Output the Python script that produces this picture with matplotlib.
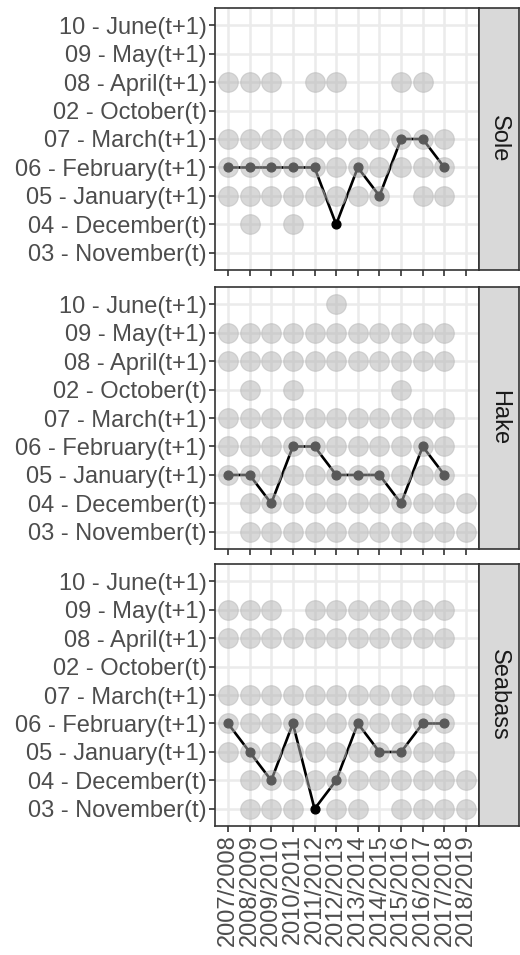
import matplotlib.pyplot as plt

plt.rcParams['font.family'] = ['Liberation Sans', 'DejaVu Sans']

# season start years (2007 -> "2007/2008")
seasons = list(range(2007, 2019))
season_labels = ['%d/%d' % (s, s + 1) for s in seasons]

# month categories, bottom to top
months = ['03 - November(t)', '04 - December(t)', '05 - January(t+1)',
          '06 - February(t+1)', '07 - March(t+1)', '02 - October(t)',
          '08 - April(t+1)', '09 - May(t+1)', '10 - June(t+1)']

species = ['Sole', 'Hake', 'Seabass']

# seasons with data, per month
sole_data = {
    '08 - April(t+1)': [2007, 2008, 2009, 2011, 2012, 2015, 2016],
    '07 - March(t+1)': list(range(2007, 2018)),
    '06 - February(t+1)': list(range(2007, 2018)),
    '05 - January(t+1)': [2007, 2008, 2009, 2010, 2011, 2012, 2013, 2014, 2016, 2017],
    '04 - December(t)': [2008, 2010],
}
hake_data = {
    '10 - June(t+1)': [2012],
    '09 - May(t+1)': list(range(2007, 2018)),
    '08 - April(t+1)': list(range(2007, 2018)),
    '02 - October(t)': [2008, 2010, 2015],
    '07 - March(t+1)': list(range(2007, 2018)),
    '06 - February(t+1)': list(range(2007, 2018)),
    '05 - January(t+1)': list(range(2007, 2018)),
    '04 - December(t)': list(range(2008, 2019)),
    '03 - November(t)': list(range(2008, 2019)),
}
seabass_data = {
    '09 - May(t+1)': [2007, 2008, 2009, 2011, 2012, 2013, 2014, 2015, 2016, 2017],
    '08 - April(t+1)': list(range(2007, 2018)),
    '07 - March(t+1)': list(range(2007, 2018)),
    '06 - February(t+1)': list(range(2007, 2018)),
    '05 - January(t+1)': list(range(2007, 2018)),
    '04 - December(t)': list(range(2008, 2019)),
    '03 - November(t)': [2008, 2009, 2010, 2012, 2013, 2015, 2016, 2017, 2018],
}

# selected month per season (2007/2008 .. 2017/2018)
sole_sel = ['06 - February(t+1)'] * 5 + ['04 - December(t)', '06 - February(t+1)',
            '05 - January(t+1)', '07 - March(t+1)', '07 - March(t+1)', '06 - February(t+1)']
hake_sel = ['05 - January(t+1)', '05 - January(t+1)', '04 - December(t)',
            '06 - February(t+1)', '06 - February(t+1)', '05 - January(t+1)',
            '05 - January(t+1)', '05 - January(t+1)', '04 - December(t)',
            '06 - February(t+1)', '05 - January(t+1)']
seabass_sel = ['06 - February(t+1)', '05 - January(t+1)', '04 - December(t)',
               '06 - February(t+1)', '03 - November(t)', '04 - December(t)',
               '06 - February(t+1)', '05 - January(t+1)', '05 - January(t+1)',
               '06 - February(t+1)', '06 - February(t+1)']

all_data = [sole_data, hake_data, seabass_data]
all_sel = [sole_sel, hake_sel, seabass_sel]

W, H = 520, 955
fig = plt.figure(figsize=(W / 100, H / 100), dpi=100)

tops = [8, 287, 564]
ph = 262
for i, name in enumerate(species):
    top = tops[i]
    ax = fig.add_axes([215 / W, 1 - (top + ph) / H, 264 / W, ph / H])
    st = fig.add_axes([479 / W, 1 - (top + ph) / H, 40 / W, ph / H])

    # selected month line
    sx = seasons[:len(all_sel[i])]
    sy = [months.index(m) for m in all_sel[i]]
    ax.plot(sx, sy, color='black', lw=1.9, zorder=2)
    ax.scatter(sx, sy, s=40, color='black', zorder=3)

    # available data circles
    for m, yrs in all_data[i].items():
        ax.scatter(yrs, [months.index(m)] * len(yrs), s=200, color='#b3b3b3',
                   alpha=0.5, edgecolor='#b3b3b3', linewidth=0.8, zorder=4)

    ax.set_xlim(2007 - 0.6, 2018 + 0.6)
    ax.set_ylim(-0.6, len(months) - 0.4)
    ax.set_xticks(seasons)
    ax.set_yticks(range(len(months)))
    ax.set_yticklabels(months)
    if i == 2:
        ax.set_xticklabels(season_labels, rotation=90)
    else:
        ax.set_xticklabels([])
    ax.set_axisbelow(True)
    ax.grid(color='#ebebeb', lw=1.8, zorder=0)
    for sp in ax.spines.values():
        sp.set_color('#333333')
        sp.set_linewidth(1.2)
    ax.tick_params(length=4, width=1.2, color='#333333', labelsize=17,
                   labelcolor='#4d4d4d', pad=2)

    st.set_facecolor('#d9d9d9')
    st.set_xticks([])
    st.set_yticks([])
    for sp in st.spines.values():
        sp.set_color('#333333')
        sp.set_linewidth(1.2)
    st.text(0.5, 0.5, name, rotation=270, ha='center', va='center',
            fontsize=17, color='#1a1a1a', transform=st.transAxes)

fig.savefig('out.png', dpi=100)
